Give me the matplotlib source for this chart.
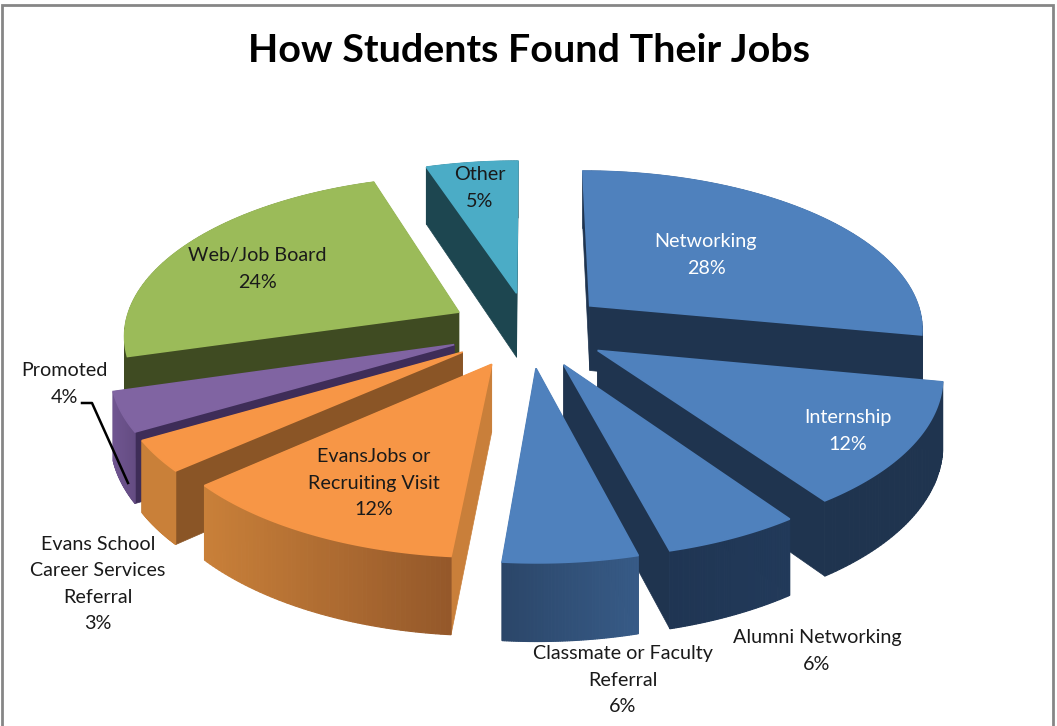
import numpy as np
from matplotlib import pyplot as plt
from matplotlib.colors import to_rgb

plt.rcParams["font.family"] = ["Lato", "DejaVu Sans"]

categories = [
    "Networking",
    "Internship",
    "Alumni Networking",
    "Classmate or Faculty\nReferral",
    "EvansJobs or\nRecruiting Visit",
    "Evans School\nCareer Services\nReferral",
    "Promoted",
    "Web/Job Board",
    "Other",
]
# the labels show them rounded
values = [28.0, 12.3, 5.6, 5.5, 12.1, 3.1, 3.9, 24.4, 5.1]

# top, radial side, outer wall left, outer wall right
slice_colors = [
    ("#4f81bd", "#1f344f", "#1f344f", "#1f344f"),
    ("#4f81bd", "#1f344f", "#1f344f", "#1f344f"),
    ("#4f81bd", "#1f344f", "#1f3553", "#223a5a"),
    ("#4f81bd", "#1f344f", "#2b4669", "#375b87"),
    ("#f79646", "#c97f3a", "#c98039", "#94582a"),
    ("#f79646", "#8a5526", "#c98039", "#c98039"),
    ("#8064a2", "#3e2d58", "#6f5590", "#644c82"),
    ("#9bbb59", "#3f4b22", "#3f4b22", "#3f4b22"),
    ("#4bacc6", "#1d4650", "#1d4650", "#1d4650"),
]
label_pos = [
    (706, 255), (848, 431), (817, 651), (623, 680), (374, 483),
    (98, 584), (64, 384), (257, 269), (480, 188),
]
label_colors = ["white", "white"] + ["#1a1a1a"] * 7
draw_order = [8, 7, 0, 6, 5, 1, 4, 2, 3]

# projection of the tilted pie onto the picture
cx, cy = 529, 329.5
scale_x, scale_y = 335, 158
persp = 0.13
depth = 66
explode = 0.24


def project(x, y, z=0.0):
    s = 1 / (1 + persp * y)
    return cx + scale_x * x * s, cy - scale_y * y * s + depth * z * s


edges = np.deg2rad(np.concatenate([[0], np.cumsum(values)]) * 3.6)

fig = plt.figure(figsize=(10.57, 7.26), dpi=100)
ax = fig.add_axes([0, 0, 1, 1])
ax.set_xlim(0, 1057)
ax.set_ylim(726, 0)
ax.axis("off")

for order, i in enumerate(draw_order):
    top, side, wall_a, wall_b = slice_colors[i]
    z = 10 + order
    mid = (edges[i] + edges[i + 1]) / 2
    ox, oy = explode * np.sin(mid), explode * np.cos(mid)
    theta = np.linspace(edges[i], edges[i + 1], 60)
    xs = ox + np.sin(theta)
    ys = oy + np.cos(theta)

    ax0, ay0 = project(ox, oy)
    ax1, ay1 = project(ox, oy, 1)
    tx, ty = project(xs, ys)
    bx, by = project(xs, ys, 1)

    # radial side walls
    for k in (0, -1):
        ax.fill([ax0, tx[k], bx[k], ax1], [ay0, ty[k], by[k], ay1],
                color=side, lw=0.5, zorder=z)

    # outer wall, light changes along the rim
    a, b = np.array(to_rgb(wall_a)), np.array(to_rgb(wall_b))
    left, right = tx.min(), tx.max()
    for k in range(len(theta) - 1):
        t = ((tx[k] + tx[k + 1]) / 2 - left) / (right - left)
        ax.fill([tx[k], tx[k + 1], bx[k + 1], bx[k]],
                [ty[k], ty[k + 1], by[k + 1], by[k]],
                color=a + (b - a) * t, lw=0.8, zorder=z)

    ax.fill(np.r_[ax0, tx], np.r_[ay0, ty], color=top, lw=1.2, zorder=z)

for name, val, pos, col in zip(categories, values, label_pos, label_colors):
    ax.text(pos[0], pos[1], f"{name}\n{val:.0f}%", color=col, fontsize=14.2,
            ha="center", va="center", linespacing=1.65, zorder=50)

ax.text(529, 51, "How Students Found Their Jobs", fontsize=28.4,
        fontweight="bold", color="black", ha="center", va="center")

ax.plot([82, 92, 128], [403, 403, 483], color="black", lw=1.8, zorder=40)

# chart frame
ax.plot([1.5, 1.5, 1053, 1053], [726, 5, 5, 726], color="#868686", lw=2,
        solid_joinstyle="miter", clip_on=False, zorder=60)

fig.savefig("out.png", dpi=100)
